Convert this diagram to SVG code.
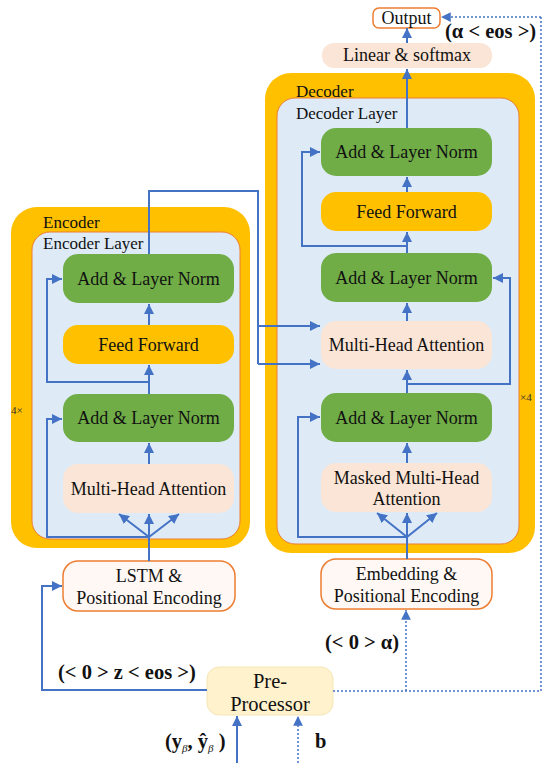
<svg xmlns="http://www.w3.org/2000/svg" width="550" height="763" viewBox="0 0 550 763">
<defs>
<marker id="ah" viewBox="0 0 10 10" refX="10" refY="5" markerWidth="5" markerHeight="5" orient="auto" markerUnits="strokeWidth">
<path d="M0,0 L10,5 L0,10 z" fill="#4472C4"/>
</marker>
<marker id="ahd" viewBox="0 0 10 10" refX="10" refY="5" markerWidth="6.5" markerHeight="6.5" orient="auto" markerUnits="strokeWidth">
<path d="M0,0 L10,5 L0,10 z" fill="#4472C4"/>
</marker>
</defs>
<style>
.outer{fill:#FFC000;}
.inner{fill:#DEEBF7;stroke:#ED7D31;stroke-width:1;}
.green{fill:#70AD47;}
.ff{fill:#FFC000;}
.peach{fill:#FBE5D6;}
.io{fill:#FFF8F4;stroke:#ED7D31;stroke-width:1.5;}
.pre{fill:#FFF2CC;stroke:#F5E6B8;stroke-width:1;}
text{font-family:"Liberation Serif","Times New Roman","DejaVu Serif",serif;}
.t{font-size:18px;fill:#111;text-anchor:middle;}
.lbl{font-size:17px;fill:#111;}
.bold{font-size:20.5px;font-weight:bold;fill:#111;}
.small{font-size:11px;fill:#333;}
.c{fill:none;stroke:#4472C4;stroke-width:2;}
.ca{fill:none;stroke:#4472C4;stroke-width:2;marker-end:url(#ah);}
.d{fill:none;stroke:#4472C4;stroke-width:1.5;stroke-dasharray:2,2;}
.da{fill:none;stroke:#4472C4;stroke-width:1.5;stroke-dasharray:2,2;marker-end:url(#ahd);}
</style>

<g id="encoder">
<rect class="outer" x="11" y="207" width="239" height="341" rx="26"/>
<rect class="inner" x="32" y="232" width="208" height="307" rx="18"/>
<text class="lbl" x="43" y="228">Encoder</text>
<text class="lbl" x="43" y="249">Encoder Layer</text>
<text class="small" x="11" y="414">4×</text>
</g>

<g id="decoder">
<rect class="outer" x="265" y="73" width="270" height="480" rx="26"/>
<rect class="inner" x="277" y="98" width="242" height="446" rx="18"/>
<text class="lbl" x="296" y="97">Decoder</text>
<text class="lbl" x="296" y="119">Decoder Layer</text>
<text class="small" x="520" y="401">×4</text>
</g>

<g id="enc-addnorm2"><rect class="green" x="63" y="254" width="171" height="49" rx="15"/><text class="t" x="148.5" y="285">Add &amp; Layer Norm</text></g>
<g id="enc-ff"><rect class="ff" x="63" y="325" width="171" height="39" rx="15"/><text class="t" x="148.5" y="351">Feed Forward</text></g>
<g id="enc-addnorm1"><rect class="green" x="63" y="394" width="171" height="48" rx="15"/><text class="t" x="148.5" y="424">Add &amp; Layer Norm</text></g>
<g id="enc-mha"><rect class="peach" x="63" y="464" width="171" height="49" rx="15"/><text class="t" x="148.5" y="495">Multi-Head Attention</text></g>
<g id="lstm"><rect class="io" x="63" y="561" width="172" height="50" rx="15"/><text class="t" x="149" y="582">LSTM &amp;</text><text class="t" x="149" y="604">Positional Encoding</text></g>

<g id="dec-addnorm3"><rect class="green" x="321" y="128" width="171" height="48" rx="15"/><text class="t" x="406.5" y="158">Add &amp; Layer Norm</text></g>
<g id="dec-ff"><rect class="ff" x="321" y="192" width="171" height="39" rx="15"/><text class="t" x="406.5" y="218">Feed Forward</text></g>
<g id="dec-addnorm2"><rect class="green" x="321" y="253" width="171" height="49" rx="15"/><text class="t" x="406.5" y="284">Add &amp; Layer Norm</text></g>
<g id="dec-mha"><rect class="peach" x="321" y="321" width="171" height="48" rx="15"/><text class="t" x="406.5" y="351">Multi-Head Attention</text></g>
<g id="dec-addnorm1"><rect class="green" x="321" y="393" width="171" height="49" rx="15"/><text class="t" x="406.5" y="424">Add &amp; Layer Norm</text></g>
<g id="dec-mmha"><rect class="peach" x="321" y="463" width="171" height="49" rx="15"/><text class="t" x="406.5" y="484">Masked Multi-Head</text><text class="t" x="406.5" y="505">Attention</text></g>
<g id="embedding"><rect class="io" x="321" y="559" width="171" height="50" rx="15"/><text class="t" x="406.5" y="580">Embedding &amp;</text><text class="t" x="406.5" y="602">Positional Encoding</text></g>

<g id="linear"><rect class="peach" x="322" y="43" width="170" height="25" rx="12"/><text class="t" x="407" y="61">Linear &amp; softmax</text></g>
<g id="output"><rect fill="#fff" stroke="#ED7D31" stroke-width="1.5" x="373" y="8" width="67" height="20" rx="6"/><text class="t" x="406.5" y="24">Output</text></g>
<g id="preprocessor"><rect class="pre" x="207" y="667" width="126" height="48" rx="12"/><text class="t" x="270" y="688" style="font-size:20.5px">Pre-</text><text class="t" x="270" y="711" style="font-size:20.5px">Processor</text></g>

<g id="connectors">
<path class="c" d="M149,561 V537"/>
<path class="ca" d="M149,537 L119,514"/>
<path class="ca" d="M149,537 V514"/>
<path class="ca" d="M149,537 L179,514"/>
<path class="ca" d="M149,537 H47 V419 H62"/>
<path class="ca" d="M149,464 V443"/>
<path class="ca" d="M149,394 V365"/>
<path class="ca" d="M149,382 H47 V279 H62"/>
<path class="ca" d="M149,325 V304"/>
<path class="c" d="M149,254 V191 H258 V364"/>
<path class="ca" d="M258,326 H320"/>
<path class="ca" d="M258,364 H320"/>
<path class="c" d="M407,559 V537"/>
<path class="ca" d="M407,537 L377,513"/>
<path class="ca" d="M407,537 V513"/>
<path class="ca" d="M407,537 L437,513"/>
<path class="ca" d="M407,537 H298 V417 H320"/>
<path class="ca" d="M407,463 V443"/>
<path class="ca" d="M407,393 V370"/>
<path class="ca" d="M407,384 H510 V278 H493"/>
<path class="ca" d="M407,321 V303"/>
<path class="ca" d="M407,253 V232"/>
<path class="ca" d="M407,246 H302 V152 H320"/>
<path class="ca" d="M407,192 V177"/>
<path class="ca" d="M407,128 V69"/>
<path class="ca" d="M407,43 V28"/>
<path class="ca" d="M207,690 H42 V586 H62"/>
<path class="ca" d="M237,763 V716"/>
<path class="da" d="M298,763 V716"/>
<path class="d" d="M333,691 H541 V17"/>
<path class="da" d="M406,691 V610"/>
<path class="da" d="M541,17 H441"/>
</g>

<text class="bold" x="445" y="38">(α &lt; eos &gt;)</text>
<text class="bold" x="325" y="649">(&lt; 0 &gt; α)</text>
<text class="bold" x="58" y="679">(&lt; 0 &gt; z &lt; eos &gt;)</text>
<text class="bold" x="165" y="748">(y<tspan font-size="11" font-weight="normal" font-style="italic" dy="4">β</tspan><tspan dy="-4">, </tspan><tspan>ŷ</tspan><tspan font-size="11" font-weight="normal" font-style="italic" dy="4">β</tspan><tspan dy="-4"> )</tspan></text>
<text class="bold" x="315" y="748">b</text>
</svg>
